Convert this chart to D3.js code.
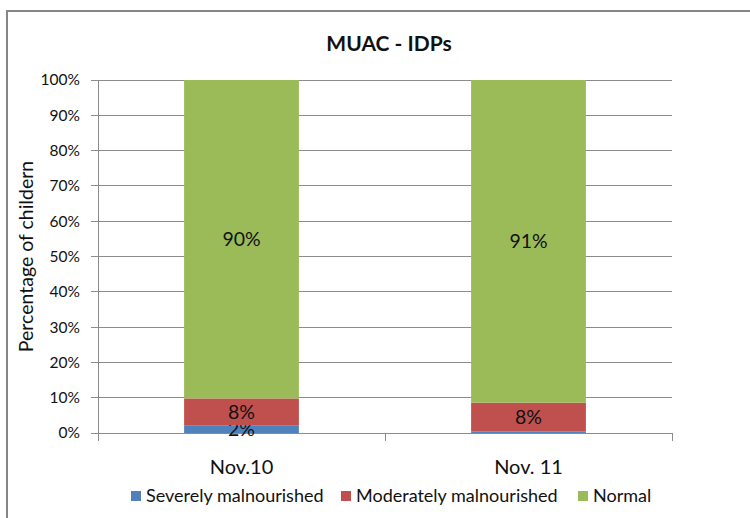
<!DOCTYPE html>
<html>
<head>
<meta charset="utf-8">
<script src="https://cdn.jsdelivr.net/npm/d3@7"></script>
<style>
  body { margin: 0; background: #fff; }
  svg { font-family: Lato, "Open Sans", sans-serif; }
</style>
</head>
<body>
<div id="chart"></div>
<script>
var width = 750;
var height = 518;

// data (percent of children)
var periods = ["Nov.10", "Nov. 11"];
var seriesNames = ["Severely malnourished", "Moderately malnourished", "Normal"];
var severe = [2.2, 0.4];
var moderate = [7.6, 8.2];
var normal = [90.2, 91.4];
var colours = ["#4F81BD", "#C0504D", "#9BBB59"];
var yTicks = [0, 10, 20, 30, 40, 50, 60, 70, 80, 90, 100];

var rows = periods.map(function(p, i) {
  return { period: p, severe: severe[i], moderate: moderate[i], normal: normal[i] };
});
var keys = ["severe", "moderate", "normal"];

var svg = d3.select("#chart")
    .append("svg")
    .attr("width", width)
    .attr("height", height);

// outer chart border
svg.append("rect")
    .attr("x", 7).attr("y", 11)
    .attr("width", 760).attr("height", 530)
    .attr("fill", "none")
    .attr("stroke", "#868686")
    .attr("stroke-width", 2);

var plot = { left: 98, right: 672, top: 80, bottom: 433 };

var x = d3.scaleBand()
    .domain(periods)
    .range([plot.left, plot.right])
    .paddingInner(0.6)
    .paddingOuter(0.3);

var y = d3.scaleLinear()
    .domain([0, 100])
    .range([plot.bottom, plot.top]);

// gridlines
svg.append("g")
    .selectAll("line")
    .data(yTicks)
    .enter()
    .append("line")
    .attr("x1", plot.left - 7)
    .attr("x2", plot.right)
    .attr("y1", d => y(d))
    .attr("y2", d => y(d))
    .attr("stroke", "#8c8c8c")
    .attr("stroke-width", 1)
    .attr("shape-rendering", "crispEdges");

// y axis line
svg.append("line")
    .attr("x1", plot.left).attr("x2", plot.left)
    .attr("y1", plot.top).attr("y2", plot.bottom)
    .attr("stroke", "#8c8c8c")
    .attr("shape-rendering", "crispEdges");

// y tick labels
svg.append("g")
    .selectAll("text")
    .data(yTicks)
    .enter()
    .append("text")
    .attr("x", 80)
    .attr("y", d => y(d))
    .attr("dy", "0.35em")
    .attr("text-anchor", "end")
    .attr("font-size", 15.5)
    .attr("fill", "#111")
    .text(d => d + "%");

// x axis category ticks
var catEdges = [plot.left, (plot.left + plot.right) / 2, plot.right];
svg.append("g")
    .selectAll("line")
    .data(catEdges)
    .enter()
    .append("line")
    .attr("x1", d => d).attr("x2", d => d)
    .attr("y1", plot.bottom).attr("y2", plot.bottom + 8)
    .attr("stroke", "#8c8c8c")
    .attr("shape-rendering", "crispEdges");

// stacked bars
var stacked = d3.stack().keys(keys)(rows);

var layers = svg.append("g")
    .selectAll("g")
    .data(stacked)
    .enter()
    .append("g")
    .attr("fill", (d, i) => colours[i]);

layers.selectAll("rect")
    .data(d => d)
    .enter()
    .append("rect")
    .attr("x", d => x(d.data.period))
    .attr("width", x.bandwidth())
    .attr("y", d => y(d[1]))
    .attr("height", d => y(d[0]) - y(d[1]));

// value labels (the tiny Nov. 11 severe slice has none)
layers.selectAll("text")
    .data(d => d.filter(v => v[1] - v[0] >= 1))
    .enter()
    .append("text")
    .attr("x", d => x(d.data.period) + x.bandwidth() / 2)
    .attr("y", d => y((d[0] + d[1]) / 2))
    .attr("dy", "0.35em")
    .attr("text-anchor", "middle")
    .attr("font-size", 19.5)
    .attr("fill", "#111")
    .text(d => Math.round(d[1] - d[0]) + "%");

// x category labels
svg.append("g")
    .selectAll("text")
    .data(periods)
    .enter()
    .append("text")
    .attr("x", d => x(d) + x.bandwidth() / 2)
    .attr("y", 467)
    .attr("dy", "0.35em")
    .attr("text-anchor", "middle")
    .attr("font-size", 20)
    .attr("fill", "#111")
    .text(d => d);

// title
svg.append("text")
    .attr("x", 389)
    .attr("y", 51)
    .attr("text-anchor", "middle")
    .attr("font-size", 21)
    .attr("font-weight", "bold")
    .attr("fill", "#111")
    .text("MUAC - IDPs");

// y axis title
svg.append("text")
    .attr("transform", "translate(26," + y(50) + ") rotate(-90)")
    .attr("text-anchor", "middle")
    .attr("dy", "0.35em")
    .attr("font-size", 19.5)
    .attr("fill", "#111")
    .text("Percentage of childern");

// legend
var legendX = [131, 341, 578];
var legend = svg.append("g")
    .selectAll("g")
    .data(seriesNames)
    .enter()
    .append("g")
    .attr("transform", (d, i) => "translate(" + legendX[i] + ",496)");

legend.append("rect")
    .attr("x", 0).attr("y", -5)
    .attr("width", 10).attr("height", 10)
    .attr("fill", (d, i) => colours[i]);

legend.append("text")
    .attr("x", 15)
    .attr("y", 0)
    .attr("dy", "0.35em")
    .attr("font-size", 18)
    .attr("fill", "#111")
    .text(d => d);
</script>
</body>
</html>
